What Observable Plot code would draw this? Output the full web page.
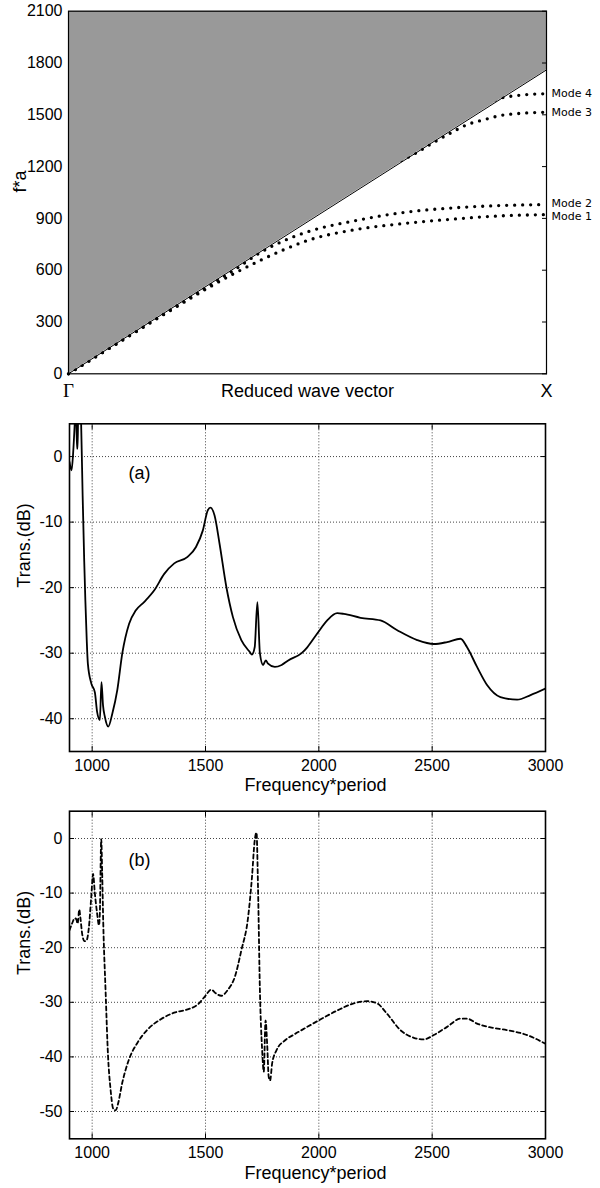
<!DOCTYPE html>
<html>
<head>
<meta charset="utf-8">
<script src="https://cdn.jsdelivr.net/npm/d3@7"></script>
<script src="https://cdn.jsdelivr.net/npm/@observablehq/plot@0.6"></script>
<style>
  body { margin: 0; background: #fff; }
  #chart { width: 600px; }
  #chart svg { display: block; }
</style>
</head>
<body>
<div id="chart"></div>
<script>
// ---------- Top panel: dispersion diagram ----------
const modeK  = [0, 0.1, 0.2, 0.3, 0.35, 0.4, 0.45, 0.5, 0.6, 0.7, 0.8, 0.9, 1.0];
const mode1F = [0, 172, 344, 510, 586, 655, 718, 772, 835, 870, 895, 914, 922];
const mode2F = [0, 174, 348, 520, 607, 700, 770, 822, 887, 934, 960, 974, 980];
const mode3K = [0.65, 0.72, 0.764, 0.8, 0.834, 0.87, 0.904, 0.95, 1.0];
const mode3F = [1180, 1268, 1340, 1395, 1443, 1472, 1496, 1509, 1515];
const mode4K = [0.8, 0.87, 0.904, 0.94, 0.97, 1.0];
const mode4F = [1480, 1555, 1596, 1612, 1619, 1622];
const modeNames = ["Mode 1", "Mode 2", "Mode 3", "Mode 4"];
const modeLabelNudge = [1.5, -1.5, 0, 0];
const lightLineK = [0, 1];
const lightLineF = [0, 1760];
const topYDomain = [0, 2100];
const topYTicks = [0, 300, 600, 900, 1200, 1500, 1800, 2100];
const topXTickPos = [0, 1];
const topXTickLabels = ["Γ", "X"];

// ---------- Panel (a) ----------
const freqA = [900, 909, 916, 923, 928, 933, 936, 939, 948, 952, 958, 965, 970, 976, 981, 996, 1012, 1022, 1034, 1041, 1048, 1056, 1071, 1089, 1111, 1133, 1163, 1192, 1229, 1274, 1318, 1362, 1421, 1458, 1488, 1510, 1522, 1540, 1562, 1592, 1621, 1658, 1695, 1705, 1717, 1729, 1740, 1754, 1766, 1776, 1806, 1836, 1865, 1924, 1949, 1993, 2037, 2081, 2110, 2184, 2272, 2346, 2434, 2507, 2566, 2625, 2654, 2698, 2743, 2801, 2875, 2934, 3000];
const dbA   = [-0.8, -2.1, 0.5, 5, 9, 1.2, 1.2, 9, 9, 4, -6, -16, -22, -28, -31.6, -34.6, -36, -39, -40.2, -34.4, -38, -39.7, -41.2, -39.2, -35.6, -30, -25.5, -23.5, -22.2, -20.4, -17.9, -16.3, -15.3, -13.8, -11.3, -8.2, -7.8, -9, -13.3, -19.9, -24.5, -28, -29.8, -30.2, -29.1, -22.2, -30, -31.8, -31.1, -31.6, -32.1, -31.8, -31.1, -30, -29.1, -27, -25, -23.9, -24, -24.6, -25, -26.5, -28, -28.6, -28.3, -27.8, -29.1, -32.1, -34.9, -36.7, -37.1, -36.4, -35.4];
const yDomainA = [-45, 5];
const yTicksA = [0, -10, -20, -30, -40];

// ---------- Panel (b) ----------
const freqB = [900, 911, 924, 930, 936, 943, 948, 956, 966, 975, 985, 996, 1004, 1012, 1022, 1030, 1034, 1040, 1044, 1049, 1059, 1070, 1081, 1093, 1104, 1114, 1133, 1163, 1200, 1244, 1303, 1362, 1421, 1466, 1498, 1525, 1547, 1569, 1599, 1629, 1658, 1688, 1705, 1717, 1725, 1732, 1740, 1750, 1757, 1765, 1772, 1779, 1785, 1794, 1813, 1850, 1895, 1924, 2000, 2081, 2154, 2213, 2257, 2301, 2360, 2419, 2463, 2507, 2566, 2625, 2654, 2698, 2757, 2831, 2919, 3000];
const dbB   = [-16.8, -15.6, -14.6, -14.8, -15.6, -13.0, -14.5, -17.5, -18.8, -18.7, -16.5, -10.7, -6.5, -10.1, -13.8, -15.9, -13.5, -0.1, -6, -15.6, -27.7, -39.8, -45.9, -49.5, -49.8, -48.6, -44.7, -40.4, -37.4, -35, -33.1, -31.9, -31.3, -30.4, -28.9, -27.7, -28.4, -28.8, -27.7, -25.4, -20.5, -14.4, -7.1, -0.4, 1.1, -9.6, -27.8, -38.8, -42.7, -33.3, -37.6, -43.7, -44.3, -41.2, -38.8, -37, -35.8, -35.1, -33.3, -31.5, -30.2, -29.8, -30.2, -32.1, -35.1, -36.5, -36.8, -36.0, -34.5, -33.0, -33.0, -33.9, -34.6, -35.1, -36.0, -37.6];
const yDomainB = [-55, 5];
const yTicksB = [0, -10, -20, -30, -40, -50];

const xDomainTrans = [900, 3000];
const xTicksTrans = [1000, 1500, 2000, 2500, 3000];
const xGridTrans = [1000, 1500, 2000, 2500];

const SANS = "'Liberation Sans', Arial, Helvetica, sans-serif";
const fmt = d => `${d}`;

// ---------- build tables ----------
const modeRows = [
  modeK.map((k, i) => ({k, f: mode1F[i]})),
  modeK.map((k, i) => ({k, f: mode2F[i]})),
  mode3K.map((k, i) => ({k, f: mode3F[i]})),
  mode4K.map((k, i) => ({k, f: mode4F[i]}))
];
const modeEnds = modeRows.map((rows, i) => ({name: modeNames[i], nudge: modeLabelNudge[i], k: rows[rows.length - 1].k, f: rows[rows.length - 1].f}));
const lightRows = lightLineK.map((k, i) => ({k, f: lightLineF[i]}));
const topTickRows = topXTickPos.map((k, i) => ({k, label: topXTickLabels[i]}));

const topPlot = Plot.plot({
  width: 600, height: 400,
  marginLeft: 68, marginRight: 54, marginTop: 10.7, marginBottom: 26.7,
  x: {domain: [0, 1], axis: null},
  y: {domain: topYDomain},
  style: {fontFamily: SANS, fontSize: "16px", background: "white", color: "black"},
  marks: [
    ...modeRows.map(rows => Plot.line(rows, {
      x: "k", y: "f", curve: "monotone-x", stroke: "black",
      strokeWidth: 3.3, strokeLinecap: "round", strokeDasharray: "0,8"
    })),
    Plot.areaY(lightRows, {x: "k", y1: "f", y2: () => topYDomain[1], fill: "#999999"}),
    Plot.line(lightRows, {x: "k", y: "f", stroke: "black", strokeWidth: 1}),
    Plot.frame({stroke: "black", strokeWidth: 1.2}),
    Plot.axisY(topYTicks, {anchor: "left", tickSize: 0, tickPadding: 6, tickFormat: fmt, label: null}),
    Plot.axisY(topYTicks, {anchor: "right", tickSize: -5, fill: "none", label: null}),
    Plot.text(topTickRows.filter(d => d.label === "Γ"), {x: "k", text: "label", frameAnchor: "bottom", dy: 17, lineAnchor: "middle", fontFamily: "'Liberation Serif', 'DejaVu Serif', serif", fontSize: 19}),
    Plot.text(topTickRows.filter(d => d.label !== "Γ"), {x: "k", text: "label", frameAnchor: "bottom", dy: 17, lineAnchor: "middle", fontSize: 18}),
    Plot.text(["Reduced wave vector"], {text: d => d, frameAnchor: "bottom", dy: 17, lineAnchor: "middle", fontSize: 18}),
    Plot.text(["f*a"], {text: d => d, frameAnchor: "left", dx: -48, rotate: -90, lineAnchor: "middle", fontSize: 18}),
    ...modeEnds.map(d => Plot.text([d], {x: "k", y: "f", text: "name", dx: 5, dy: d.nudge, textAnchor: "start", lineAnchor: "middle", fontFamily: "'DejaVu Sans', sans-serif", fontSize: 11}))
  ]
});

function transPlot({freq, db, yDomain, yTicks, height, marginTop, marginBottom, dash, tag}) {
  const rows = freq.map((f, i) => ({f, db: db[i]}));
  return Plot.plot({
    width: 600, height,
    marginLeft: 69, marginRight: 55, marginTop, marginBottom,
    x: {domain: xDomainTrans},
    y: {domain: yDomain},
    style: {fontFamily: SANS, fontSize: "16px", background: "white", color: "black"},
    marks: [
      Plot.gridX(xGridTrans, {stroke: "#444", strokeOpacity: 1, strokeWidth: 1, strokeDasharray: "1,2"}),
      Plot.gridY(yTicks, {stroke: "#444", strokeOpacity: 1, strokeWidth: 1, strokeDasharray: "1,2"}),
      Plot.line(rows, {x: "f", y: "db", curve: "monotone-x", stroke: "black", strokeWidth: 1.8, strokeDasharray: dash, clip: true}),
      Plot.frame({stroke: "black", strokeWidth: 1.6}),
      Plot.axisX(xTicksTrans, {anchor: "bottom", tickSize: 0, tickPadding: 8, tickFormat: fmt, label: null}),
      Plot.axisY(yTicks, {anchor: "left", tickSize: 0, tickPadding: 7, tickFormat: fmt, label: null}),
      Plot.axisY(yTicks, {anchor: "left", tickSize: -5, fill: "none", label: null}),
      Plot.axisY(yTicks, {anchor: "right", tickSize: -5, fill: "none", label: null}),
      Plot.axisX(xGridTrans, {anchor: "bottom", tickSize: -5, fill: "none", label: null}),
      Plot.axisX(xGridTrans, {anchor: "top", tickSize: -5, fill: "none", label: null}),
      Plot.text(["Frequency*period"], {text: d => d, frameAnchor: "bottom", dx: 8, dy: 34, lineAnchor: "middle", fontSize: 18}),
      Plot.text(["Trans.(dB)"], {text: d => d, frameAnchor: "left", dx: -45.5, rotate: -90, lineAnchor: "middle", fontSize: 18}),
      Plot.text([tag], {text: d => d, frameAnchor: "top-left", dx: 70, dy: 49, textAnchor: "middle", lineAnchor: "middle", fontSize: 18})
    ]
  });
}

const plotA = transPlot({freq: freqA, db: dbA, yDomain: yDomainA, yTicks: yTicksA, height: 400, marginTop: 23.3, marginBottom: 49, dash: null, tag: "(a)"});
const plotB = transPlot({freq: freqB, db: dbB, yDomain: yDomainB, yTicks: yTicksB, height: 388, marginTop: 10.7, marginBottom: 49.7, dash: "4,3", tag: "(b)"});

const chart = document.getElementById("chart");
chart.append(topPlot, plotA, plotB);
</script>
</body>
</html>
